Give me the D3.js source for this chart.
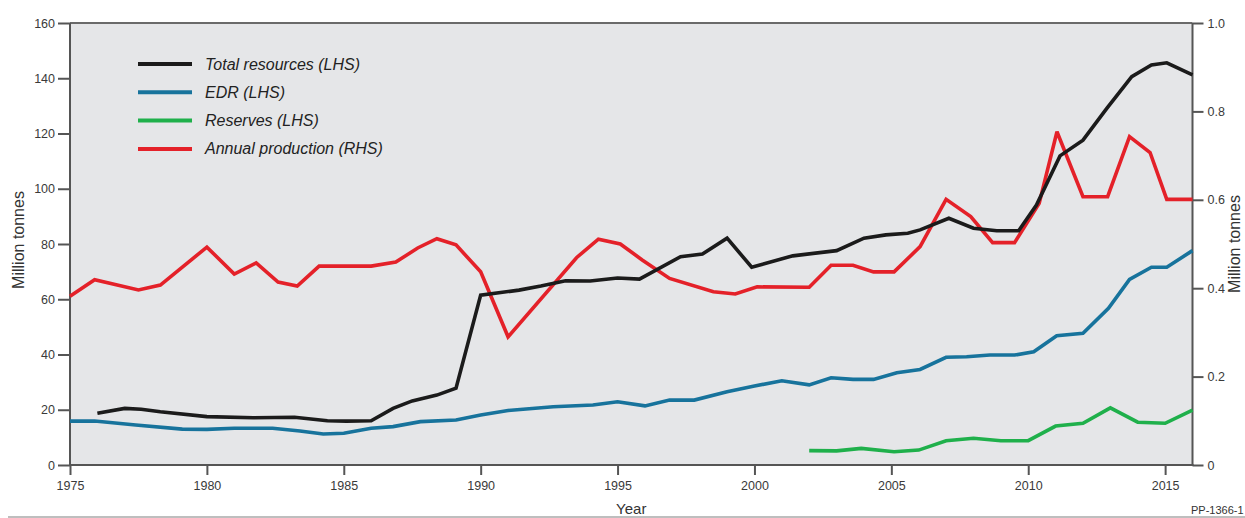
<!DOCTYPE html>
<html>
<head>
<meta charset="utf-8">
<script src="https://cdn.jsdelivr.net/npm/d3@7"></script>
<style>
  html, body { margin: 0; padding: 0; background: #fff; }
  svg { display: block; font-family: "Liberation Sans", Arial, Helvetica, sans-serif; }
</style>
</head>
<body>
<svg id="chart" width="1245" height="518"></svg>
<script>
// Total resources (LHS, million tonnes)
const totalYears  = [1976.0, 1977.0, 1977.6, 1978.3, 1980.0, 1981.7, 1983.2, 1984.4, 1985.1, 1986.0, 1986.8, 1987.5, 1988.4, 1989.1, 1990.0, 1991.4, 1992.2, 1993.1, 1994.0, 1995.0, 1995.8, 1997.3, 1998.1, 1999.0, 1999.9, 2001.4, 2003.0, 2004.0, 2004.8, 2005.6, 2006.05, 2007.1, 2008.0, 2008.85, 2009.65, 2010.3, 2011.16, 2012.0, 2012.87, 2013.78, 2014.5, 2015.06, 2016.0];
const totalValues = [18.7, 20.5, 20.2, 19.3, 17.5, 17.1, 17.3, 16.0, 15.9, 16.0, 20.5, 23.2, 25.3, 27.8, 61.5, 63.3, 64.8, 66.7, 66.6, 67.7, 67.3, 75.4, 76.4, 82.1, 71.6, 75.7, 77.6, 82.1, 83.3, 83.9, 85.1, 89.3, 85.7, 84.8, 84.8, 94.1, 111.9, 117.6, 129.1, 140.6, 144.8, 145.6, 141.2];

// Economic demonstrated resources (LHS)
const edrYears  = [1975.0, 1975.9, 1977.4, 1979.1, 1980.0, 1981.0, 1982.4, 1983.4, 1984.25, 1985.0, 1986.0, 1986.8, 1987.8, 1989.1, 1990.0, 1991.0, 1992.65, 1994.1, 1995.0, 1996.0, 1996.9, 1997.8, 1999.0, 2000.0, 2001.0, 2002.0, 2002.8, 2003.6, 2004.35, 2005.2, 2006.05, 2007.0, 2007.75, 2008.6, 2009.5, 2010.2, 2011.04, 2012.0, 2012.93, 2013.7, 2014.5, 2015.06, 2016.0];
const edrValues = [15.9, 15.9, 14.5, 13.0, 12.9, 13.3, 13.3, 12.3, 11.2, 11.5, 13.3, 13.9, 15.7, 16.3, 18.1, 19.7, 21.1, 21.7, 22.9, 21.4, 23.5, 23.5, 26.5, 28.6, 30.5, 29.0, 31.6, 31.0, 31.0, 33.4, 34.6, 39.0, 39.2, 39.8, 39.8, 41.0, 46.8, 47.7, 56.7, 67.2, 71.6, 71.6, 77.6];

// Reserves (LHS)
const reserveYears  = [2002, 2003, 2003.9, 2005.1, 2006, 2007, 2008, 2009, 2010, 2011, 2012, 2013, 2014, 2015, 2016];
const reserveValues = [5.2, 5.1, 6.0, 4.8, 5.4, 8.8, 9.7, 8.8, 8.8, 14.1, 15.1, 20.7, 15.5, 15.1, 19.9];

// Annual production (RHS, million tonnes)
const prodYears  = [1975.0, 1975.9, 1977.5, 1978.3, 1980.0, 1981.0, 1981.8, 1982.6, 1983.3, 1984.1, 1986.0, 1986.9, 1987.7, 1988.4, 1989.1, 1990.0, 1991.0, 1993.5, 1994.3, 1995.1, 1995.9, 1996.9, 1998.5, 1999.3, 2000.1, 2002.0, 2002.8, 2003.6, 2004.35, 2005.1, 2006.05, 2007.0, 2007.9, 2008.7, 2009.5, 2010.4, 2011.05, 2012.0, 2012.9, 2013.7, 2014.45, 2015.06, 2016.0];
const prodValues = [0.382, 0.419, 0.396, 0.407, 0.493, 0.432, 0.457, 0.414, 0.405, 0.450, 0.450, 0.459, 0.491, 0.512, 0.498, 0.437, 0.290, 0.469, 0.511, 0.500, 0.464, 0.422, 0.392, 0.387, 0.403, 0.402, 0.452, 0.452, 0.437, 0.437, 0.494, 0.601, 0.562, 0.503, 0.503, 0.592, 0.754, 0.607, 0.607, 0.743, 0.707, 0.601, 0.601];

// Axis ticks
const xTicks      = [1975, 1980, 1985, 1990, 1995, 2000, 2005, 2010, 2015];
const leftTicks   = [0, 20, 40, 60, 80, 100, 120, 140, 160];
const rightTicks  = [0, 0.2, 0.4, 0.6, 0.8, 1.0];
const rightLabels = ["0", "0.2", "0.4", "0.6", "0.8", "1.0"];

// Legend entries
const legendLabels = ["Total resources (LHS)", "EDR (LHS)", "Reserves (LHS)", "Annual production (RHS)"];
const legendColors = ["#1b1b1b", "#17739c", "#1fb04b", "#e42129"];

const svg = d3.select("#chart");
const plotLeft = 70, plotRight = 1192.5, plotTop = 23, plotBottom = 465;

const x  = d3.scaleLinear().domain([1975, 2016]).range([plotLeft, plotRight]);
const yL = d3.scaleLinear().domain([0, 160]).range([plotBottom, plotTop]);
const yR = d3.scaleLinear().domain([0, 1]).range([plotBottom, plotTop]);

// plot panel
svg.append("rect")
  .attr("x", plotLeft).attr("y", plotTop)
  .attr("width", plotRight - plotLeft).attr("height", plotBottom - plotTop)
  .attr("fill", "#e5e6e8");

const axisColor = "#555";
const tickText = "#3a3a3a";

function styleAxis(g) {
  g.selectAll("path.domain").remove();
  g.selectAll(".tick line").attr("stroke", axisColor).attr("stroke-width", 2);
  g.selectAll(".tick text").attr("fill", tickText).style("font-size", "12.5px");
}

// left axis
svg.append("g")
  .attr("transform", `translate(${plotLeft},0)`)
  .call(d3.axisLeft(yL).tickValues(leftTicks).tickSize(12).tickPadding(3).tickFormat(d3.format("d")))
  .call(styleAxis);

// right axis
svg.append("g")
  .attr("transform", `translate(${plotRight},0)`)
  .call(d3.axisRight(yR).tickValues(rightTicks).tickSize(11).tickPadding(4)
        .tickFormat((d, i) => rightLabels[i]))
  .call(styleAxis);

// bottom axis
svg.append("g")
  .attr("transform", `translate(0,${plotBottom})`)
  .call(d3.axisBottom(x).tickValues(xTicks).tickSize(10).tickPadding(6).tickFormat(d3.format("d")))
  .call(styleAxis);

// frame
const frame = svg.append("g").attr("stroke", axisColor).attr("stroke-width", 2).attr("fill", "none");
frame.append("line").attr("x1", plotLeft).attr("x2", plotRight).attr("y1", plotTop).attr("y2", plotTop).attr("stroke", "#6a6a6a");
frame.append("line").attr("x1", plotLeft).attr("x2", plotLeft).attr("y1", plotTop).attr("y2", plotBottom + 1);
frame.append("line").attr("x1", plotRight).attr("x2", plotRight).attr("y1", plotTop).attr("y2", plotBottom + 1);
frame.append("line").attr("x1", plotLeft - 1).attr("x2", plotRight + 1).attr("y1", plotBottom).attr("y2", plotBottom);

// series
const series = [
  { xs: edrYears,     ys: edrValues,     scale: yL, color: legendColors[1] },
  { xs: reserveYears, ys: reserveValues, scale: yL, color: legendColors[2] },
  { xs: prodYears,    ys: prodValues,    scale: yR, color: legendColors[3] },
  { xs: totalYears,   ys: totalValues,   scale: yL, color: legendColors[0] }
];

series.forEach(s => {
  const pts = s.xs.map((yr, i) => [yr, s.ys[i]]);
  const line = d3.line().x(d => x(d[0])).y(d => s.scale(d[1]));
  svg.append("path")
    .datum(pts)
    .attr("d", line)
    .attr("fill", "none")
    .attr("stroke", s.color)
    .attr("stroke-width", 3.6)
    .attr("stroke-linejoin", "miter")
    .attr("stroke-miterlimit", 3);
});

// legend
const legend = svg.append("g").attr("transform", "translate(138,64)");
legendLabels.forEach((lab, i) => {
  const g = legend.append("g").attr("transform", `translate(0,${i * 28.3})`);
  g.append("line").attr("x1", 0).attr("x2", 54).attr("y1", 0).attr("y2", 0)
    .attr("stroke", legendColors[i]).attr("stroke-width", 4);
  g.append("text").attr("x", 67).attr("y", 5.5)
    .attr("fill", "#222").style("font-size", "16px").style("font-style", "italic")
    .text(lab);
});

// axis titles
svg.append("text")
  .attr("transform", "translate(24,240) rotate(-90)")
  .attr("text-anchor", "middle").attr("fill", "#333").style("font-size", "16px")
  .text("Million tonnes");

svg.append("text")
  .attr("transform", "translate(1240,244) rotate(-90)")
  .attr("text-anchor", "middle").attr("fill", "#333").style("font-size", "16px")
  .text("Million tonnes");

svg.append("text")
  .attr("x", (plotLeft + plotRight) / 2).attr("y", 514)
  .attr("text-anchor", "middle").attr("fill", "#333").style("font-size", "15px")
  .text("Year");

// figure reference
svg.append("text")
  .attr("x", 1191).attr("y", 514)
  .attr("fill", "#333").style("font-size", "11px")
  .text("PP-1366-1");

// bottom rule of the figure
svg.append("line")
  .attr("x1", 8).attr("x2", 1245).attr("y1", 517).attr("y2", 517)
  .attr("stroke", "#a8a8a8").attr("stroke-width", 1.5);
</script>
</body>
</html>
